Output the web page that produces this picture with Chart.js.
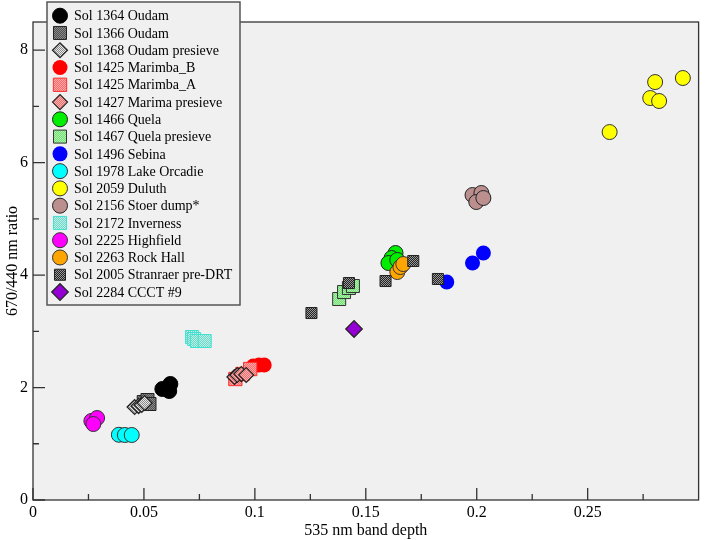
<!DOCTYPE html>
<html><head><meta charset="utf-8">
<script src="https://cdn.jsdelivr.net/npm/chart.js@4"></script>
<style>html,body{margin:0;padding:0;background:#fff}#wrap{width:709px;height:540px;position:relative}</style>
</head><body><div id="wrap"><canvas id="c" width="709" height="540"></canvas></div>
<script>
// ---------- DATA ----------
const seriesNames = [
  "Sol 1364 Oudam","Sol 1366 Oudam","Sol 1368 Oudam presieve","Sol 1425 Marimba_B",
  "Sol 1425 Marimba_A","Sol 1427 Marima presieve","Sol 1466 Quela","Sol 1467 Quela presieve",
  "Sol 1496 Sebina","Sol 1978 Lake Orcadie","Sol 2059 Duluth","Sol 2156 Stoer dump*",
  "Sol 2172 Inverness","Sol 2225 Highfield","Sol 2263 Rock Hall","Sol 2005 Stranraer pre-DRT",
  "Sol 2284 CCCT #9"
];
// [535 nm band depth, 670/440 nm ratio]
const oudam1364   = [[0.0583,1.974],[0.0619,2.063],[0.0614,1.938]];
const oudam1366   = [[0.0499,1.742],[0.0516,1.778],[0.0525,1.707]];
const oudam1368   = [[0.0458,1.654],[0.0476,1.671],[0.0490,1.689],[0.0503,1.725]];
const marimbaB    = [[0.0993,2.383],[0.1019,2.400],[0.1042,2.400]];
const marimbaA    = [[0.0912,2.151],[0.0944,2.240],[0.0979,2.329]];
const marimaPre   = [[0.0908,2.187],[0.0921,2.223],[0.0939,2.240],[0.0961,2.223]];
const quela       = [[0.1634,4.392],[0.1616,4.303],[0.1602,4.214],[0.1642,4.268]];
const quelaPre    = [[0.1380,3.574],[0.1402,3.698],[0.1424,3.770],[0.1442,3.805]];
const sebina      = [[0.1865,3.876],[0.1981,4.214],[0.2030,4.392]];
const lakeOrcadie = [[0.0387,1.160],[0.0414,1.156],[0.0445,1.156]];
const duluth      = [[0.2599,6.543],[0.2804,7.432],[0.2782,7.148],[0.2822,7.095],[0.2929,7.504]];
const stoer       = [[0.1981,5.423],[0.2021,5.459],[0.1998,5.299],[0.2030,5.370]];
const inverness   = [[0.0717,2.898],[0.0726,2.863],[0.0739,2.827],[0.0774,2.827]];
const highfield   = [[0.0263,1.405],[0.0289,1.458],[0.0272,1.351]];
const rockHall    = [[0.1642,4.054],[0.1656,4.143],[0.1669,4.196]];
const stranraer   = [[0.1714,4.250],[0.1589,3.894],[0.1825,3.930],[0.1424,3.858],[0.1255,3.325]];
const ccct        = [[0.1447,3.041]];

const xTickValues = [0,0.05,0.1,0.15,0.2,0.25];
const xTickLabels = ["0","0.05","0.1","0.15","0.2","0.25"];
const xMinorValues = [0.025,0.075,0.125,0.175,0.225,0.275];
const yTickValues = [0,2,4,6,8];
const yTickLabels = ["0","2","4","6","8"];
const yMinorValues = [1,3,5,7];

// ---------- STYLES ----------
function pat(a,b){
  const c=document.createElement('canvas');c.width=2;c.height=2;
  const g=c.getContext('2d');g.fillStyle=a;g.fillRect(0,0,2,2);
  g.fillStyle=b;g.fillRect(0,0,1,1);g.fillRect(1,1,1,1);
  return g.createPattern(c,'repeat');
}
const seriesData = [oudam1364,oudam1366,oudam1368,marimbaB,marimbaA,marimaPre,quela,quelaPre,
  sebina,lakeOrcadie,duluth,stoer,inverness,highfield,rockHall,stranraer,ccct];
const styles = [
  {s:'circle', r:7.5, bg:'#000000', bc:'#000000', bw:1},
  {s:'rect', r:9.2, bg:pat('#505050','#8a8a8a'), bc:'#222', bw:1},
  {s:'rectRot', r:7.5, bg:pat('#e8e8e8','#8a8a8a'), bc:'#222', bw:1.2},
  {s:'circle', r:7.5, bg:'#ff0000', bc:'#ff0000', bw:0},
  {s:'rect', r:9.4, bg:pat('#ff6868','#ffa8a8'), bc:'#ff3030', bw:1},
  {s:'rectRot', r:7.5, bg:pat('#f07070','#f8b0b0'), bc:'#222', bw:1.2},
  {s:'circle', r:7.5, bg:'#00ee00', bc:'#222', bw:1},
  {s:'rect', r:9.2, bg:pat('#70e070','#b0f0b0'), bc:'#333', bw:1},
  {s:'circle', r:7.5, bg:'#0000ff', bc:'#0000ff', bw:0},
  {s:'circle', r:7.5, bg:'#00ffff', bc:'#333', bw:1},
  {s:'circle', r:7.5, bg:'#ffff00', bc:'#333', bw:1},
  {s:'circle', r:7.5, bg:'#bc8f8f', bc:'#222', bw:1},
  {s:'rect', r:9.2, bg:pat('#70d8c8','#b8f0e8'), bc:'#40e0d0', bw:1},
  {s:'circle', r:7.5, bg:'#ff00ff', bc:'#333', bw:1},
  {s:'circle', r:7.5, bg:'#ffa500', bc:'#333', bw:1},
  {s:'rect', r:7.8, bg:pat('#222222','#999999'), bc:'#222', bw:1},
  {s:'rectRot', r:8.3, bg:'#9400d3', bc:'#222', bw:1.2}
];

const datasets = seriesNames.map((n,i)=>({
  label:n,
  data: seriesData[i].map(p=>({x:p[0],y:p[1]})),
  pointStyle: styles[i].s, pointRadius: styles[i].r,
  backgroundColor: styles[i].bg, borderColor: styles[i].bc, borderWidth: styles[i].bw,
  order: -i
}));

const FONT = '"Liberation Serif", "Times New Roman", serif';

function drawSym(ctx, st, x, y){
  ctx.save();
  ctx.fillStyle = st.bg; ctx.strokeStyle = st.bc; ctx.lineWidth = st.bw;
  ctx.beginPath();
  const r = st.r;
  if (st.s==='circle'){ ctx.arc(x,y,r,0,Math.PI*2); }
  else if (st.s==='rect'){ const h=r*Math.SQRT1_2; ctx.rect(x-h,y-h,2*h,2*h); }
  else { ctx.moveTo(x-r,y); ctx.lineTo(x,y-r); ctx.lineTo(x+r,y); ctx.lineTo(x,y+r); ctx.closePath(); }
  ctx.fill(); if (st.bw>0) ctx.stroke();
  ctx.restore();
}

const framePlugin = {
  id:'frame',
  beforeDraw(chart){
    const {ctx, chartArea:a} = chart;
    ctx.save(); ctx.fillStyle='#f0f0f0'; ctx.fillRect(a.left,a.top,a.right-a.left,a.bottom-a.top); ctx.restore();
  },
  afterDraw(chart){
    const {ctx, chartArea:a, scales} = chart;
    ctx.save();
    ctx.strokeStyle='#333'; ctx.lineWidth=1.3;
    ctx.strokeRect(a.left,a.top,a.right-a.left,a.bottom-a.top);
    ctx.beginPath();
    xTickValues.forEach(v=>{const p=scales.x.getPixelForValue(v); ctx.moveTo(p,a.bottom); ctx.lineTo(p,a.bottom-12);});
    xMinorValues.forEach(v=>{const p=scales.x.getPixelForValue(v); ctx.moveTo(p,a.bottom); ctx.lineTo(p,a.bottom-6);});
    yTickValues.forEach(v=>{const p=scales.y.getPixelForValue(v); ctx.moveTo(a.left,p); ctx.lineTo(a.left+12,p);});
    yMinorValues.forEach(v=>{const p=scales.y.getPixelForValue(v); ctx.moveTo(a.left,p); ctx.lineTo(a.left+6,p);});
    ctx.stroke();
    // legend
    const lx=47, ly=2, lw=193, lh=303;
    ctx.fillStyle='#f0f0f0'; ctx.fillRect(lx,ly,lw,lh);
    ctx.strokeStyle='#555'; ctx.lineWidth=1.5; ctx.strokeRect(lx,ly,lw,lh);
    ctx.font = '14px '+FONT; ctx.fillStyle='#000'; ctx.textBaseline='middle'; ctx.textAlign='left';
    seriesNames.forEach((n,i)=>{
      const y = 15.7 + i*17.27;
      drawSym(ctx, styles[i], 60, y);
      ctx.fillStyle='#000';
      ctx.fillText(n, 74, y+1);
    });
    ctx.restore();
  }
};

new Chart(document.getElementById('c'), {
  type:'scatter',
  data:{datasets},
  options:{
    responsive:false, animation:false,
    layout:{padding:{top:22,right:2,left:0,bottom:0}},
    plugins:{legend:{display:false}, tooltip:{enabled:false}},
    scales:{
      x:{
        type:'linear', min:0, max:0.3,
        grid:{display:false, drawTicks:false}, border:{display:false},
        afterBuildTicks:s=>{s.ticks = xTickValues.map(v=>({value:v}));},
        afterFit:s=>{s.height=40;},
        ticks:{autoSkip:false, maxRotation:0, padding:3, color:'#000', font:{family:FONT,size:16},
          callback:(v,i)=>xTickLabels[i]},
        title:{display:true, text:'535 nm band depth', color:'#000', font:{family:FONT,size:16}, padding:{top:0,bottom:0}}
      },
      y:{
        type:'linear', min:0, max:8.5,
        grid:{display:false, drawTicks:false}, border:{display:false},
        afterBuildTicks:s=>{s.ticks = yTickValues.map(v=>({value:v}));},
        afterFit:s=>{s.width=33;},
        ticks:{autoSkip:false, padding:5, color:'#000', font:{family:FONT,size:16},
          callback:(v,i)=>yTickLabels[i]},
        title:{display:true, text:'670/440 nm ratio', color:'#000', font:{family:FONT,size:16}, padding:{top:3,bottom:0}}
      }
    }
  },
  plugins:[framePlugin]
});
</script></body></html>
